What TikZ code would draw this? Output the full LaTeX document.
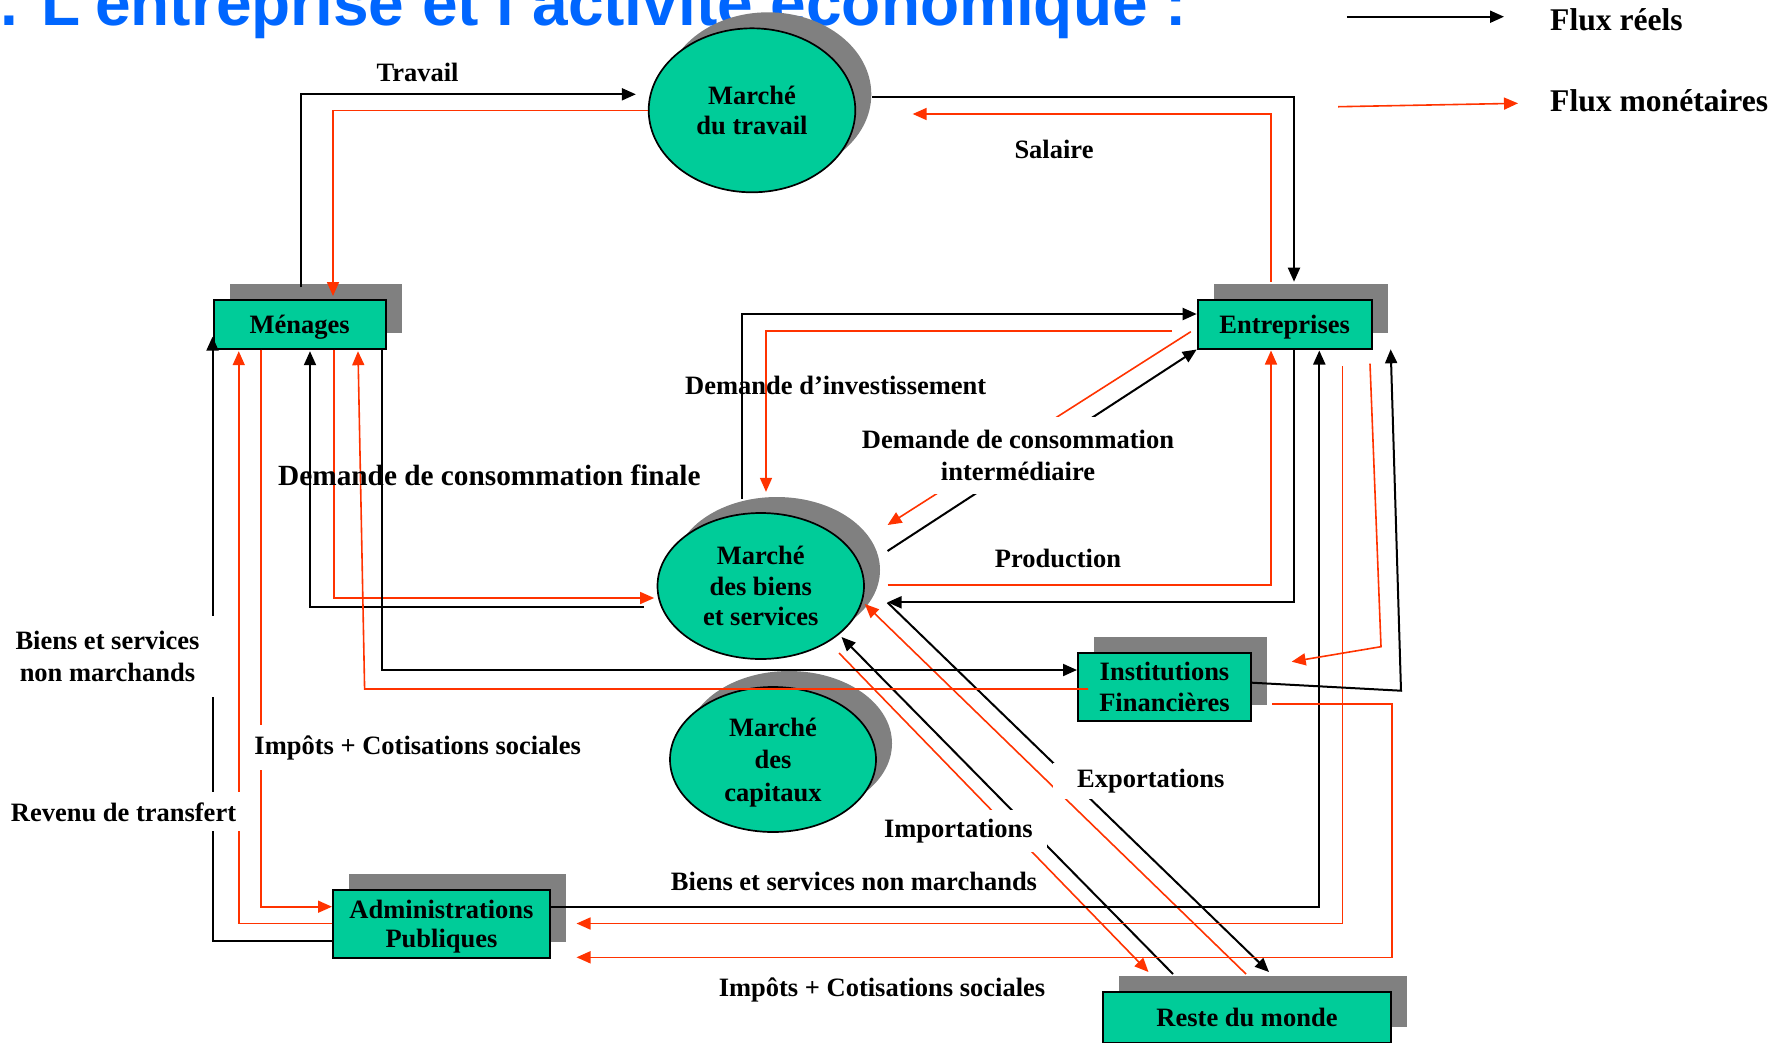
\documentclass[tikz,border=0pt]{standalone}
\usepackage{fontspec}
\setmainfont{Liberation Serif}
\newfontfamily\titlefont{Liberation Sans}
\usepackage{tikz}
\usetikzlibrary{calc}
\usetikzlibrary{shadows, arrows.meta, shapes}
\definecolor{my_green}{RGB}{0, 204, 153}
\definecolor{my_red}{RGB}{255, 51, 0}
\definecolor{my_gray}{RGB}{128, 128, 128}
\definecolor{my_blue}{RGB}{0, 102, 255}
\tikzset {
  agent/.style = {draw, line width=2pt, fill=my_green, rectangle, inner sep=0pt, align=center, text depth=0pt, font=\bfseries\fontsize{26.5}{29.5}\selectfont, drop shadow={shadow xshift=16pt, shadow yshift=16pt, fill=my_gray, opacity=1}},
  market/.style = {draw, line width=1.7pt, fill=my_green, ellipse, inner sep=0pt, align=center, text depth=0pt, font=\bfseries\fontsize{26.5}{30.5}\selectfont, drop shadow={shadow xshift=16pt, shadow yshift=16pt, fill=my_gray, opacity=1}},
  line/.style = {->, line width=2pt, color=black, >={Triangle[length=14pt, width=12pt]}},
  moneyline/.style = {line, line width=1.6pt, color=my_red},
  flowlabel/.style = {inner sep=0pt, align=center, font=\bfseries\fontsize{26.5}{31.5}\selectfont},
  gaplabel/.style = {flowlabel, fill=white},
  legendlabel/.style = {anchor=base west, inner sep=0pt, font=\bfseries\fontsize{31.6}{34}\selectfont}
}

\begin{document}
\begin{tikzpicture}[x=1pt, y=-1pt]
    \useasboundingbox (0,0) rectangle (1786,1042);

    \node[anchor=base west, inner sep=0pt, text=my_blue, font=\titlefont\bfseries\fontsize{64}{64}\selectfont] (title) at (0,25) {. L’entreprise et l’activité économique :};

    % markets
    \node[market, minimum width=206.6pt, minimum height=164pt, name=mt] (mt) at (752,110.3) {Marché\\du travail};
    \node[market, minimum width=206.5pt, minimum height=146pt, name=mb] (mb) at (760.75,586) {Marché\\des biens\\et services};
    \node[market, minimum width=206pt, minimum height=145pt, name=mc, font=\bfseries\fontsize{26.5}{32.5}\selectfont] (mc) at (773,759.5) {Marché\\des\\capitaux};

    % agents
    \node[agent, minimum width=172.5pt, minimum height=48.7pt, name=menages] (menages) at (299.75,324.35) {Ménages};
    \node[agent, minimum width=174pt, minimum height=48.5pt, name=entreprises] (entreprises) at (1284.7,324.25) {Entreprises};
    \node[agent, minimum width=173pt, minimum height=67.7pt, name=instit, font=\bfseries\fontsize{26.5}{31.5}\selectfont] (instit) at (1164.5,686.85) {Institutions\\Financières};
    \node[agent, minimum width=217pt, minimum height=67.7pt, name=admin] (admin) at (441.5,923.85) {Administrations\\Publiques};
    \node[agent, minimum width=288.3pt, minimum height=51pt, name=rdm] (rdm) at (1247,1017.2) {Reste du monde};

    % legend
    \node[legendlabel] (legreal) at (1550,30) {Flux réels};
    \node[legendlabel] (legmoney) at (1550,111.7) {Flux monétaires};
    \draw[line, ->] ([xshift=-203.2pt, yshift=2.5pt]legreal.west) -- ([xshift=-46pt, yshift=2.5pt]legreal.west);
    \draw[moneyline, ->] ([xshift=-212pt, yshift=-5.8pt]legmoney.west) -- ([xshift=-32pt, yshift=-2.4pt]legmoney.west);

    % labour market
    \draw[line, ->] ([xshift=1.65pt, yshift=12pt]menages.north) |- ([xshift=-12pt, yshift=16pt]mt.west);
    \draw[moneyline, ->] (mt.west) -| ([xshift=33.25pt, yshift=3pt]menages.north);
    \draw[line, ->] ([xshift=16pt, yshift=13.6pt]mt.east) -| ([xshift=9.3pt, yshift=17.3pt]entreprises.north);
    \draw[moneyline, ->] ([xshift=-13.7pt, yshift=17pt]entreprises.north) |- ([xshift=56.5pt, yshift=-3.7pt]mt.east);

    % goods market and firms
    \draw[line, ->] ([xshift=-18.75pt, yshift=13pt]mb.north) |- ([yshift=10.25pt]entreprises.west);
    \draw[moneyline, ->] ([xshift=-24.7pt, yshift=-6.75pt]entreprises.west) -| ([xshift=5.25pt, yshift=20.3pt]mb.north);
    \draw[moneyline, ->] ([xshift=-5.9pt, yshift=-7.45pt]entreprises.west) -- ([xshift=22.7pt, yshift=61pt]mb.east);
    \draw[line, ->] ([xshift=22.7pt, yshift=35pt]mb.east) -- (entreprises.south west);
    \draw[moneyline, ->] ([xshift=22.7pt, yshift=1pt]mb.east) -| ([xshift=-13.7pt, yshift=-1pt]entreprises.south);
    \draw[line, ->] ([xshift=9.6pt]entreprises.south) |- ([xshift=22.7pt, yshift=-16.3pt]mb.east);

    % rest of the world
    \draw[line, ->] ([xshift=22.7pt, yshift=-16.5pt]mb.east) -- ([xshift=22pt, yshift=18.7pt]rdm.north);
    \draw[moneyline, ->] ([xshift=-1pt, yshift=16.7pt]rdm.north) -- ([yshift=-18pt]mb.east);
    \draw[line, ->] ([xshift=-74pt, yshift=16.7pt]rdm.north) -- ([xshift=80.75pt, yshift=-51pt]mb.center);
    \draw[moneyline, ->] ([xshift=78.25pt, yshift=-67pt]mb.center) -- ([xshift=-98.5pt, yshift=18.7pt]rdm.north);

    % households
    \draw[moneyline, ->] ([xshift=34pt]menages.south) |- ([xshift=-2.5pt, yshift=-12pt]mb.west);
    \draw[line, ->] ([xshift=-12.9pt, yshift=-20.7pt]mb.west) -| ([xshift=10.25pt, yshift=-1.5pt]menages.south);
    \draw[line, ->] ([xshift=82.25pt]menages.south) |- ([yshift=16.85pt]instit.west);
    \coordinate (ifin) at ([xshift=11pt, yshift=-2.15pt]instit.west);
    \coordinate (ifinup) at ([xshift=64.85pt]menages.south);
    \draw[moneyline, ->] (ifin) -- (ifinup |- ifin) -- ([xshift=58.25pt, yshift=-1.5pt]menages.south);

    % public administrations
    \draw[moneyline, ->] ([yshift=0.55pt]admin.west) -| ([xshift=-61pt, yshift=-1.5pt]menages.south);
    \draw[moneyline, ->] ([xshift=-38.5pt]menages.south) |- ([yshift=17.15pt]admin.west);
    \draw[line, ->] ([yshift=-16.85pt]admin.west) -| ([yshift=-12.35pt]menages.west);
    \draw[line, ->] ([yshift=17.15pt]admin.east) -| ([xshift=34.6pt, yshift=-1pt]entreprises.south);
    \draw[moneyline, ->] ([xshift=57.9pt, yshift=-16.5pt]entreprises.south) |- ([xshift=25.5pt, yshift=0.35pt]admin.east);

    % financial institutions
    \draw[moneyline, ->] ([xshift=85.3pt, yshift=-14.2pt]entreprises.south) -- ([xshift=129pt, yshift=40.15pt]instit.east) -- ([xshift=39.7pt, yshift=25.15pt]instit.east);
    \draw[line, ->] ([yshift=4.15pt]instit.east) -- ([xshift=149pt, yshift=-3.85pt]instit.east) -- ([xshift=106pt, yshift=0.2pt]entreprises.south);
    \draw[moneyline, ->] ([xshift=20pt, yshift=-17.15pt]instit.east) -- ++(120,0) |- ([xshift=25.5pt, yshift=-33.45pt]admin.east);

    % labels
    \node[flowlabel, anchor=base] (travail) at (417.6,81.7) {Travail};
    \node[flowlabel, anchor=base] (salaire) at (1054,158.3) {Salaire};
    \node[flowlabel, anchor=base west] (invest) at (685,394) {Demande d’investissement};
    \node[flowlabel, anchor=base west, font=\bfseries\fontsize{29.3}{32}\selectfont] (finale) at (278,485) {Demande de consommation finale};
    \node[flowlabel, anchor=base] (production) at (1058,567.3) {Production};
    \node[flowlabel, anchor=base] (bsnm) at (854,890) {Biens et services non marchands};
    \node[flowlabel, anchor=base] (impots) at (882,996) {Impôts + Cotisations sociales};
    \node[gaplabel, inner xsep=6pt, inner ysep=13pt, font=\bfseries\fontsize{26.5}{32}\selectfont] (interm) at (1018,455.3) {Demande de consommation\\intermédiaire};
    \node[gaplabel, anchor=base, inner xsep=24pt, inner ysep=6pt] (export) at (1150.7,787.3) {Exportations};
    \node[gaplabel, anchor=base, inner xsep=14pt, inner ysep=9pt] (import) at (958.4,837.3) {Importations};
    \node[gaplabel, inner xsep=20pt, inner ysep=15.5pt, font=\bfseries\fontsize{26.5}{31.7}\selectfont] (bsnmleft) at (107.5,656.2) {Biens et services\\non marchands};
    \node[gaplabel, anchor=base, inner xsep=8pt, inner ysep=10pt] (transfert) at (123.5,821) {Revenu de transfert};
    \node[gaplabel, anchor=base, inner xsep=6pt, inner ysep=10pt] (impotsleft) at (417.7,754) {Impôts + Cotisations sociales};

\end{tikzpicture}
\end{document}
